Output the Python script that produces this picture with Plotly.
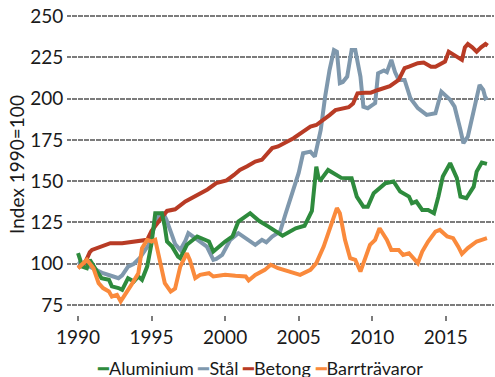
import plotly.graph_objects as go

# Price indices for construction materials, 1990 = 100 (decimal years)
alu_year = [1990.0, 1990.3, 1990.6, 1990.8, 1991.3, 1991.6, 1992.1, 1992.3, 1992.75, 1993.0,
            1993.4, 1993.8, 1994.1, 1994.35, 1994.7, 1995.0, 1995.25, 1995.7, 1995.9, 1996.05,
            1996.4, 1996.8, 1996.95, 1997.4, 1998.1, 1998.9, 1999.2, 2000.0, 2000.5, 2000.9,
            2001.7, 2002.3, 2002.95, 2003.9, 2004.8, 2005.4, 2005.9, 2006.1, 2006.2, 2006.35,
            2006.5, 2007.0, 2007.9, 2008.6, 2008.95, 2009.4, 2009.7, 2010.1, 2010.5, 2010.9,
            2011.45, 2011.9, 2012.5, 2012.7, 2013.0, 2013.4, 2013.8, 2014.2, 2014.5, 2014.8,
            2015.3, 2015.75, 2016.0, 2016.4, 2016.9, 2017.1, 2017.45, 2017.8]
alu_value = [106.4, 98.3, 97.3, 102.4, 95.3, 91.3, 90.3, 86.3, 85.3, 84.2,
             91.3, 89.3, 92.3, 90.3, 98.3, 112.5, 130.6, 130.6, 122.5, 113.5,
             110.4, 104.4, 103.4, 111.5, 116.5, 113.5, 107.4, 113.5, 116.5, 125.6,
             130.6, 126.0, 122.5, 117.0, 121.5, 123.0, 132.0, 146.7, 158.8, 152.0,
             150.8, 156.8, 152.0, 151.8, 140.7, 134.6, 134.6, 142.7, 145.7, 148.8,
             149.8, 143.7, 140.7, 136.7, 137.7, 132.6, 132.6, 130.6, 140.7, 152.8,
             160.9, 152.0, 140.7, 139.7, 146.7, 155.8, 161.3, 160.5]

stal_year = [1990.0, 1990.4, 1990.8, 1991.2, 1991.7, 1992.4, 1992.75, 1993.0, 1993.4, 1993.8,
             1994.2, 1994.8, 1995.1, 1995.3, 1995.5, 1995.8, 1996.0, 1996.3, 1996.6, 1996.95,
             1997.3, 1997.5, 1997.97, 1998.4, 1998.76, 1999.2, 1999.4, 1999.8, 2000.35, 2000.9,
             2001.5, 2002.05, 2002.5, 2002.8, 2003.2, 2003.74, 2004.1, 2004.5, 2004.8, 2005.0,
             2005.3, 2005.8, 2006.1, 2006.5, 2006.8, 2007.1, 2007.4, 2007.6, 2007.8, 2008.0,
             2008.3, 2008.6, 2008.85, 2009.2, 2009.4, 2009.7, 2010.0, 2010.2, 2010.4, 2010.8,
             2011.0, 2011.3, 2011.55, 2011.8, 2012.2, 2012.6, 2013.1, 2013.7, 2014.3, 2014.7,
             2015.3, 2015.6, 2016.0, 2016.2, 2016.5, 2017.0, 2017.3, 2017.55, 2017.7, 2017.85]
stal_value = [101.4, 99.0, 98.3, 96.5, 94.3, 92.3, 91.3, 93.0, 98.3, 100.0,
              103.5, 111.5, 120.5, 125.5, 130.0, 130.6, 127.0, 118.5, 112.0, 108.4,
              114.0, 118.5, 115.5, 113.0, 110.4, 102.4, 103.0, 105.4, 114.5, 118.5,
              114.5, 111.5, 114.5, 113.0, 116.5, 119.5, 130.0, 140.7, 148.0, 155.0,
              166.9, 167.9, 164.9, 181.0, 201.2, 217.3, 229.4, 228.4, 209.3, 210.0,
              213.3, 229.4, 229.4, 213.3, 195.1, 194.2, 196.0, 197.2, 215.3, 217.0,
              216.0, 223.4, 216.0, 211.3, 211.3, 200.2, 194.2, 190.1, 191.1, 204.2,
              199.2, 195.1, 181.0, 173.0, 177.0, 195.1, 208.3, 205.2, 200.2, 201.0]

betong_year = [1990.0, 1990.4, 1990.6, 1990.8, 1990.95, 1991.3, 1991.7, 1992.2, 1993.0, 1993.8,
               1994.7, 1995.0, 1995.3, 1995.6, 1996.05, 1996.6, 1997.3, 1997.8, 1998.3, 1998.8,
               1999.4, 2000.1, 2000.6, 2001.0, 2001.5, 2002.05, 2002.5, 2003.2, 2003.6, 2004.1,
               2004.65, 2005.3, 2005.8, 2006.2, 2006.7, 2007.1, 2007.5, 2008.0, 2008.4, 2008.7,
               2009.0, 2009.5, 2009.9, 2010.4, 2010.9, 2011.2, 2011.8, 2012.2, 2012.5, 2013.1,
               2013.5, 2014.0, 2014.3, 2014.95, 2015.2, 2015.6, 2016.1, 2016.3, 2016.5, 2016.8,
               2017.1, 2017.4, 2017.7, 2017.85]
betong_value = [97.6, 100.0, 103.0, 107.0, 108.4, 109.5, 111.0, 112.5, 112.5, 113.5,
                114.5, 120.0, 124.0, 127.0, 132.0, 133.0, 137.7, 140.0, 142.7, 145.0,
                148.8, 150.5, 153.8, 156.8, 159.0, 161.9, 163.0, 170.0, 171.0, 173.5,
                176.0, 180.0, 183.0, 184.0, 187.0, 190.0, 193.0, 194.2, 194.8, 197.0,
                203.2, 203.6, 203.6, 205.2, 206.3, 207.5, 211.3, 218.4, 219.3, 221.4,
                221.8, 219.3, 219.3, 222.4, 228.4, 226.0, 223.4, 231.0, 233.0, 231.0,
                228.4, 231.0, 233.0, 232.0]

barr_year = [1990.0, 1990.6, 1991.05, 1991.4, 1991.7, 1992.1, 1992.3, 1992.65, 1992.9, 1993.2,
             1993.7, 1994.1, 1994.35, 1994.7, 1995.0, 1995.25, 1995.6, 1995.9, 1996.3, 1996.6,
             1996.95, 1997.4, 1997.6, 1997.97, 1998.3, 1998.9, 1999.2, 2000.0, 2000.7, 2001.4,
             2001.6, 2002.05, 2002.7, 2003.1, 2003.6, 2004.4, 2005.1, 2005.8, 2006.2, 2006.7,
             2007.25, 2007.6, 2007.8, 2008.15, 2008.5, 2008.85, 2009.2, 2009.5, 2009.85, 2010.2,
             2010.5, 2011.0, 2011.3, 2011.8, 2012.1, 2012.5, 2012.8, 2013.1, 2013.4, 2013.8,
             2014.3, 2014.6, 2015.1, 2015.5, 2015.85, 2016.1, 2016.5, 2017.1, 2017.45, 2017.8]
barr_value = [97.3, 102.4, 97.3, 88.3, 85.3, 83.2, 80.2, 81.2, 77.2, 81.2,
              88.3, 94.3, 109.5, 114.5, 113.5, 114.5, 100.4, 88.3, 83.2, 85.0,
              98.3, 106.4, 102.4, 91.3, 93.3, 94.3, 92.3, 93.3, 92.7, 92.3,
              89.9, 93.3, 96.3, 99.4, 97.3, 95.3, 93.3, 96.3, 100.4, 110.4,
              124.6, 133.7, 130.6, 114.5, 103.4, 102.4, 95.3, 102.4, 111.5, 114.5,
              121.5, 114.5, 108.4, 108.4, 105.4, 106.4, 103.4, 100.4, 107.4, 113.5,
              119.5, 120.5, 116.5, 115.5, 110.4, 106.0, 109.5, 113.5, 114.5, 115.5]

names = ["Aluminium", "Stål", "Betong", "Barrträvaror"]
colors = ["#2e8b3d", "#7f98ad", "#b83b25", "#fa8a3c"]
series = [(alu_year, alu_value), (stal_year, stal_value),
          (betong_year, betong_value), (barr_year, barr_value)]

x_ticks = [1990, 1995, 2000, 2005, 2010, 2015]
y_ticks = [75, 100, 125, 150, 175, 200, 225, 250]
x_range = [1989.59, 2018.28]
y_range = [69, 251.2]

FONT = "Lato"
TXT = "#1a1a1a"
GRID = "#7c7c7c"

fig = go.Figure()

draw_order = [1, 2, 0, 3]
for i in draw_order:
    xs, ys = series[i]
    fig.add_trace(go.Scatter(
        x=xs, y=ys, mode="lines", name=names[i],
        line=dict(color=colors[i], width=4),
        showlegend=False,
    ))

# Compact legend line below the plot: coloured dash followed by series name
legend_text = "\u00a0".join(
    f"<span style='color:{c}'>━</span>{n}" for n, c in zip(names, colors)
)
fig.add_annotation(
    text=legend_text, xref="paper", yref="paper", x=0.445, y=-0.175,
    xanchor="center", yanchor="middle", showarrow=False,
    font=dict(family=FONT, size=18, color=TXT),
)

fig.update_layout(
    template="none",
    width=495, height=377,
    margin=dict(l=72, r=1, t=14, b=62),
    paper_bgcolor="white", plot_bgcolor="white",
    font=dict(family=FONT, size=19, color=TXT),
    xaxis=dict(
        range=x_range, tickmode="array", tickvals=x_ticks,
        ticktext=[str(t) for t in x_ticks],
        showgrid=False, zeroline=False, showline=False,
        ticks="outside", ticklen=5, tickwidth=1.5, tickcolor=GRID,
        tickfont=dict(family=FONT, size=19, color=TXT),
    ),
    yaxis=dict(
        range=y_range, tickmode="array", tickvals=y_ticks,
        ticktext=[str(t) for t in y_ticks],
        showgrid=True, gridcolor=GRID, gridwidth=2, griddash="5px,1px",
        zeroline=False, showline=False,
        ticks="outside", ticklen=4, tickwidth=2, tickcolor=GRID,
        tickfont=dict(family=FONT, size=19, color=TXT),
        title=dict(text="Index 1990=100", font=dict(family=FONT, size=19, color=TXT),
                   standoff=0),
    ),
)

fig.write_html("out.html")
